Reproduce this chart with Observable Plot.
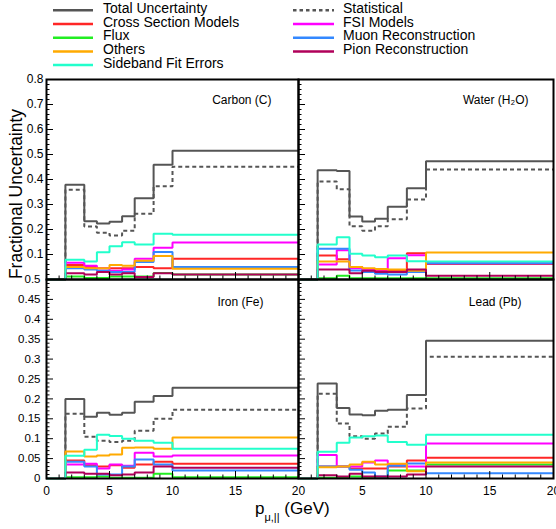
<!DOCTYPE html>
<html><head><meta charset="utf-8">
<script src="https://cdn.jsdelivr.net/npm/d3@7"></script>
<script src="https://cdn.jsdelivr.net/npm/@observablehq/plot@0.6"></script>
<style>
html,body{margin:0;padding:0;background:#fff;}
#chart{position:relative;width:556px;height:529px;overflow:hidden;background:#fff;font-family:"Liberation Sans",Arial,sans-serif;}
#chart svg{position:absolute;}
</style></head><body><div id="chart"></div>
<script>
// ---- data ----
const binEdges = [0, 1.5, 3, 4, 5, 6, 7, 8.5, 10, 20];

const seriesNames = ["Total Uncertainty", "Statistical", "Cross Section Models", "FSI Models",
  "Flux", "Muon Reconstruction", "Others", "Pion Reconstruction", "Sideband Fit Errors"];
const seriesColors = ["#555555", "#555555", "#ff2626", "#ff00ff", "#22ee22", "#3388ff", "#ffaa00", "#b0005a", "#22ffcc"];

const panelNames = ["Carbon (C)", "Water (H\u2082O)", "Iron (Fe)", "Lead (Pb)"];

const carbonTotal    = [0, 0.379, 0.233, 0.224, 0.231, 0.253, 0.325, 0.459, 0.515];
const carbonStat     = [0, 0.359, 0.212, 0.187, 0.176, 0.195, 0.263, 0.373, 0.451];
const carbonXsec     = [0, 0.058, 0.050, 0.045, 0.045, 0.045, 0.050, 0.045, 0.083];
const carbonFsi      = [0, 0.067, 0.055, 0.045, 0.035, 0.040, 0.083, 0.127, 0.148];
const carbonFlux     = [0, 0.012, 0.006, 0.006, 0.012, 0.012, 0.012, 0.026, 0.020];
const carbonMuon     = [0, 0.045, 0.040, 0.035, 0.030, 0.030, 0.070, 0.110, 0.050];
const carbonOthers   = [0, 0.050, 0.045, 0.045, 0.058, 0.055, 0.075, 0.094, 0.043];
const carbonPion     = [0, 0.025, 0.020, 0.030, 0.020, 0.025, 0.010, 0.025, 0.020];
const carbonSideband = [0, 0.079, 0.072, 0.109, 0.133, 0.149, 0.140, 0.183, 0.179];

const waterTotal    = [0, 0.437, 0.434, 0.252, 0.232, 0.243, 0.291, 0.365, 0.473];
const waterStat     = [0, 0.392, 0.361, 0.213, 0.195, 0.213, 0.241, 0.320, 0.440];
const waterXsec     = [0, 0.096, 0.081, 0.050, 0.040, 0.036, 0.036, 0.105, 0.062];
const waterFsi      = [0, 0.060, 0.117, 0.045, 0.040, 0.040, 0.085, 0.097, 0.065];
const waterFlux     = [0, 0.005, 0.015, 0.005, 0.005, 0.005, 0.005, 0.005, 0.005];
const waterMuon     = [0, 0.123, 0.123, 0.036, 0.030, 0.023, 0.020, 0.030, 0.065];
const waterOthers   = [0, 0.072, 0.072, 0.050, 0.045, 0.042, 0.040, 0.035, 0.108];
const waterPion     = [0, 0.040, 0.040, 0.025, 0.035, 0.030, 0.030, 0.040, 0.015];
const waterSideband = [0, 0.140, 0.169, 0.103, 0.096, 0.089, 0.096, 0.073, 0.072];

const ironTotal    = [0, 0.200, 0.155, 0.165, 0.160, 0.165, 0.193, 0.207, 0.228];
const ironStat     = [0, 0.163, 0.105, 0.095, 0.092, 0.095, 0.120, 0.150, 0.173];
const ironXsec     = [0, 0.045, 0.033, 0.030, 0.033, 0.027, 0.035, 0.042, 0.037];
const ironFsi      = [0, 0.035, 0.037, 0.025, 0.035, 0.032, 0.065, 0.055, 0.058];
const ironFlux     = [0, 0.003, 0.003, 0.005, 0.002, 0.002, 0.002, 0.012, 0.003];
const ironMuon     = [0, 0.042, 0.030, 0.010, 0.010, 0.030, 0.048, 0.035, 0.020];
const ironOthers   = [0, 0.068, 0.055, 0.058, 0.060, 0.077, 0.078, 0.075, 0.103];
const ironPion     = [0, 0.015, 0.012, 0.012, 0.008, 0.010, 0.015, 0.030, 0.027];
const ironSideband = [0, 0.057, 0.072, 0.110, 0.107, 0.100, 0.095, 0.090, 0.075];

const leadTotal    = [0, 0.239, 0.177, 0.161, 0.159, 0.170, 0.173, 0.210, 0.346];
const leadStat     = [0, 0.213, 0.138, 0.106, 0.100, 0.113, 0.130, 0.176, 0.306];
const leadXsec     = [0, 0.030, 0.030, 0.025, 0.025, 0.025, 0.030, 0.045, 0.052];
const leadFsi      = [0, 0.059, 0.030, 0.030, 0.040, 0.045, 0.035, 0.030, 0.088];
const leadFlux     = [0, 0.002, 0.003, 0.005, 0.002, 0.002, 0.020, 0.020, 0.035];
const leadMuon     = [0, 0.030, 0.030, 0.022, 0.015, 0.005, 0.032, 0.038, 0.013];
const leadOthers   = [0, 0.028, 0.030, 0.035, 0.042, 0.035, 0.037, 0.018, 0.040];
const leadPion     = [0, 0.008, 0.005, 0.012, 0.005, 0.005, 0.005, 0.010, 0.030];
const leadSideband = [0, 0.067, 0.090, 0.103, 0.106, 0.108, 0.092, 0.085, 0.110];

const xTickLabelsLeft  = [0, 5, 10, 15, 20];
const xTickLabelsRight = [5, 10, 15, 20];
const yTickLabelsTop    = [0.1, 0.2, 0.3, 0.4, 0.5, 0.6, 0.7, 0.8];
const yTickLabelsBottom = [0, 0.05, 0.1, 0.15, 0.2, 0.25, 0.3, 0.35, 0.4, 0.45, 0.5];

// ---- helpers ----
const FONT = '"Liberation Sans", Arial, Helvetica, sans-serif';
const chart = document.getElementById("chart");

function steps(vals) {
  const pts = vals.map((v, i) => ({x: binEdges[i], y: v}));
  pts.push({x: binEdges[binEdges.length - 1], y: vals[vals.length - 1]});
  return pts;
}
function rng(a, b, s) {
  const out = [];
  const n = Math.round((b - a) / s);
  for (let i = 0; i <= n; i++) out.push(+(a + i * s).toFixed(4));
  return out;
}

function panel(cfg) {
  const {series, label, labelDx, labelDy, yMax, yMajorStep, yMinorStep, yLabels, yLabelPad, yFont,
         xLabels, left, top, width, height, mt, mb, ml, mr} = cfg;
  const fw = width - ml - mr, fh = height - mt - mb;
  const xMajor = rng(0, 20, 5), xMinor = rng(0, 20, 1).filter(d => d % 5 !== 0);
  const yMajor = rng(0, yMax, yMajorStep);
  const yMinor = rng(0, yMax, yMinorStep).filter(d => !yMajor.some(m => Math.abs(m - d) < 1e-6));
  const marks = [];
  series.forEach((vals, i) => {
    marks.push(Plot.line(steps(vals), {
      x: "x", y: "y", curve: "step-after", stroke: seriesColors[i], strokeWidth: 2,
      strokeLinejoin: "miter", strokeLinecap: "butt",
      strokeDasharray: i === 1 ? "4,3" : undefined
    }));
  });
  marks.push(
    Plot.tickX(xMinor, {x: d => d, insetTop: fh - 3.5, stroke: "black", strokeWidth: 1}),
    Plot.tickX(xMajor, {x: d => d, insetTop: fh - 7, stroke: "black", strokeWidth: 1}),
    Plot.tickY(yMinor, {y: d => d, insetRight: fw - 3.5, stroke: "black", strokeWidth: 1}),
    Plot.tickY(yMajor, {y: d => d, insetRight: fw - 7, stroke: "black", strokeWidth: 1}),
    Plot.frame({stroke: "black", strokeWidth: 2}),
    Plot.text([label], {text: d => d, frameAnchor: "top-right", textAnchor: "end", lineAnchor: "middle",
      dx: labelDx, dy: labelDy, fontSize: 12, fill: "black"})
  );
  if (xLabels) marks.push(Plot.axisX(xLabels, {tickSize: 0, tickPadding: 8, fontSize: 12, label: null, tickFormat: d => String(d), fill: "black"}));
  if (yLabels) marks.push(Plot.axisY(yLabels, {tickSize: 0, tickPadding: yLabelPad, fontSize: yFont, label: null, tickFormat: d => String(d), fill: "black"}));
  const svg = Plot.plot({
    width, height, marginTop: mt, marginBottom: mb, marginLeft: ml, marginRight: mr,
    x: {domain: [0, 20], axis: null, label: null},
    y: {domain: [0, yMax], axis: null, label: null},
    style: {fontFamily: FONT, background: "transparent", overflow: "visible"},
    marks
  });
  svg.style.position = "absolute";
  svg.style.left = left + "px";
  svg.style.top = top + "px";
  svg.style.background = "transparent";
  svg.style.maxWidth = "none";
  chart.appendChild(svg);
}

panel({series: [carbonTotal, carbonStat, carbonXsec, carbonFsi, carbonFlux, carbonMuon, carbonOthers, carbonPion, carbonSideband],
  label: panelNames[0], labelDx: -27, labelDy: 20.5, yMax: 0.8, yMajorStep: 0.1, yMinorStep: 0.02,
  yLabels: yTickLabelsTop, yLabelPad: 3, yFont: 12, xLabels: null,
  left: 0, top: 70, width: 300, height: 215, mt: 9, mb: 6, ml: 46, mr: 2});
panel({series: [waterTotal, waterStat, waterXsec, waterFsi, waterFlux, waterMuon, waterOthers, waterPion, waterSideband],
  label: panelNames[1], labelDx: -25, labelDy: 21, yMax: 0.8, yMajorStep: 0.1, yMinorStep: 0.02,
  yLabels: null, yLabelPad: 3, yFont: 12, xLabels: null,
  left: 296, top: 70, width: 260, height: 215, mt: 9, mb: 6, ml: 2, mr: 3});
panel({series: [ironTotal, ironStat, ironXsec, ironFsi, ironFlux, ironMuon, ironOthers, ironPion, ironSideband],
  label: panelNames[2], labelDx: -35, labelDy: 22.5, yMax: 0.5, yMajorStep: 0.05, yMinorStep: 0.01,
  yLabels: yTickLabelsBottom, yLabelPad: 6, yFont: 11.5, xLabels: xTickLabelsLeft,
  left: 0, top: 270, width: 300, height: 240, mt: 9, mb: 32, ml: 46, mr: 2});
panel({series: [leadTotal, leadStat, leadXsec, leadFsi, leadFlux, leadMuon, leadOthers, leadPion, leadSideband],
  label: panelNames[3], labelDx: -32, labelDy: 22.5, yMax: 0.5, yMajorStep: 0.05, yMinorStep: 0.01,
  yLabels: null, yLabelPad: 6, yFont: 11.5, xLabels: xTickLabelsRight,
  left: 296, top: 270, width: 260, height: 240, mt: 9, mb: 32, ml: 2, mr: 3});

// ---- legend & axis titles ----
const over = d3.select(chart).append("svg")
  .attr("width", 556).attr("height", 529)
  .style("left", "0px").style("top", "0px").style("pointer-events", "none")
  .style("font-family", FONT);

const legendCols = [
  {items: [0, 2, 4, 6, 8], lx1: 53, lx2: 93, tx: 103},
  {items: [1, 3, 5, 7], lx1: 293, lx2: 334, tx: 343}
];
const rowBase = [12.8, 26.5, 40.2, 53.9, 67.6];
legendCols.forEach(col => {
  col.items.forEach((si, r) => {
    const by = rowBase[r];
    over.append("line").attr("x1", col.lx1).attr("x2", col.lx2)
      .attr("y1", by - 2.5).attr("y2", by - 2.5)
      .attr("stroke", seriesColors[si]).attr("stroke-width", 2.5)
      .attr("stroke-dasharray", si === 1 ? "3.5,3" : null);
    over.append("text").attr("x", col.tx).attr("y", by).attr("font-size", 14)
      .attr("fill", "black").text(seriesNames[si]);
  });
});

over.append("text").attr("transform", "translate(21.5,194) rotate(-90)")
  .attr("text-anchor", "middle").attr("font-size", 17.5).attr("fill", "black")
  .text("Fractional Uncertainty");

const xt = over.append("text").attr("x", 255).attr("y", 514).attr("font-size", 17).attr("fill", "black");
xt.append("tspan").text("p");
xt.append("tspan").attr("font-size", 11).attr("dy", 7).text("\u03bc,||");
xt.append("tspan").attr("dy", -7).text(" (GeV)");
</script></body></html>
